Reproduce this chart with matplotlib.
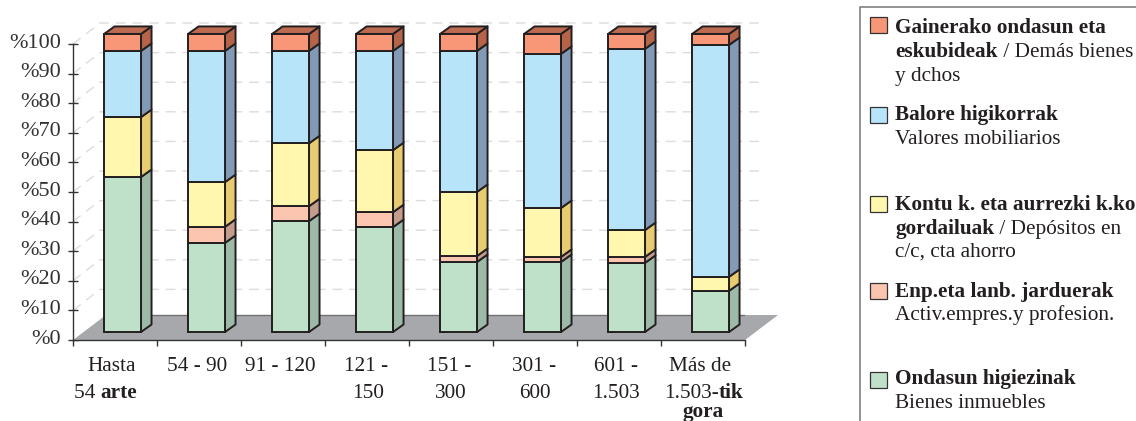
import matplotlib
matplotlib.use('Agg')
import numpy as np
import matplotlib.pyplot as plt
from matplotlib.patches import Polygon, Rectangle
from matplotlib.transforms import ScaledTranslation

plt.rcParams['font.family'] = ['Liberation Serif', 'DejaVu Serif']

# datos, de abajo hacia arriba
ondasun  = [52.0, 29.9, 37.2, 35.2, 23.5, 23.5, 23.2, 13.8]
jarduera = [0.0, 5.4, 5.0, 5.0, 2.0, 1.7, 2.0, 0.0]
kontu    = [20.1, 15.0, 21.1, 20.8, 21.5, 16.4, 9.0, 4.7]
balore   = [22.2, 44.0, 31.0, 33.3, 47.3, 51.7, 60.8, 77.8]
besteak  = [5.7, 5.7, 5.7, 5.7, 5.7, 6.7, 5.0, 3.7]
series = [ondasun, jarduera, kontu, balore, besteak]

front_colors = ['#bfe1ca', '#fcc5b0', '#fff7ae', '#b8e4f9', '#f79778']
side_colors  = ['#9dbaa8', '#c49c8c', '#e8cb70', '#829ab5', '#b5644a']
top_color = '#bd6b50'

yticks = [0, 10, 20, 30, 40, 50, 60, 70, 80, 90, 100]
ylabels = ['%' + str(v) for v in yticks]

# cada linea es una lista de trozos (texto, negrita)
cat_labels = [
    [[('Hasta', False)], [('54 ', False), ('arte', True)]],
    [[('54 - 90', False)]],
    [[('91 - 120', False)]],
    [[('121 -', False)], [('150', False)]],
    [[('151 -', False)], [('300', False)]],
    [[('301 -', False)], [('600', False)]],
    [[('601 -', False)], [('1.503', False)]],
    [[('Más de', False)], [('1.503-', False), ('tik', True)], [('gora', True)]],
]

W = 1136
H = 421
INK = '#231f20'

fig = plt.figure(figsize=(W / 100, H / 100), dpi=100)
ax = fig.add_axes([73 / W, 1 - 340 / H, 672 / W, 296 / H])
ax.set_xlim(0, 8)
ax.set_ylim(0, 100)
ax.patch.set_visible(False)
for s in ['top', 'right']:
    ax.spines[s].set_visible(False)
for s in ['left', 'bottom']:
    ax.spines[s].set_color('#333333')
    ax.spines[s].set_linewidth(1.0)
    ax.spines[s].set_zorder(6)

ax.set_yticks(yticks)
ax.set_yticklabels(ylabels, fontsize=16, color='#333333')
ax.tick_params(axis='y', direction='inout', length=7, width=1.0, color='#333333', pad=5)
up = ScaledTranslation(0, 2.5 / 72, fig.dpi_scale_trans)
for lab in ax.get_yticklabels():
    lab.set_transform(lab.get_transform() + up)
ax.set_xticks(range(9))
ax.set_xticklabels([])
ax.tick_params(axis='x', direction='out', length=4, width=1.0, color='#333333')

# profundidad del fondo, en unidades de datos
back_dx = 27 / 84
back_dy = 21 / 2.96
floor_dx = 33 / 84
floor_dy = 25 / 2.96

for v in yticks[1:]:
    ax.plot([0, back_dx, 8.24], [v, v + back_dy, v + back_dy], color='#dcdcdc',
            lw=1.0, dashes=(7, 5), clip_on=False, zorder=1)

ax.add_patch(Polygon([(0, 0), (8, 0), (8 + floor_dx, floor_dy), (floor_dx, floor_dy)],
                     facecolor='#a7a8ab', edgecolor='none', clip_on=False, zorder=2))
ax.plot([floor_dx, 8 + floor_dx], [floor_dy, floor_dy], color='#707070', lw=1.0, zorder=2)

# barras 3D
bar_w = 0.44
bar_off = 0.09
lift = 2.7
scale = 1.007
side_dx = 10.5 / 84
side_dy = 7.5 / 2.96
edge_lw = 1.4

for i in range(8):
    x0 = i + 0.5 + bar_off - bar_w / 2
    x1 = x0 + bar_w
    base = 0.0
    for k, vals in enumerate(series):
        if vals[i] == 0:
            continue
        y0 = lift + base * scale
        y1 = lift + (base + vals[i]) * scale
        base += vals[i]
        ax.add_patch(Polygon([(x1, y0), (x1 + side_dx, y0 + side_dy),
                              (x1 + side_dx, y1 + side_dy), (x1, y1)],
                             facecolor=side_colors[k], edgecolor=INK, lw=edge_lw,
                             joinstyle='round', clip_on=False, zorder=3))
        ax.add_patch(Rectangle((x0, y0), bar_w, y1 - y0, facecolor=front_colors[k],
                               edgecolor=INK, lw=edge_lw, clip_on=False, zorder=4))
    ax.add_patch(Polygon([(x0, y1), (x1, y1), (x1 + side_dx, y1 + side_dy),
                          (x0 + side_dx, y1 + side_dy)],
                         facecolor=top_color, edgecolor=INK, lw=edge_lw,
                         joinstyle='round', clip_on=False, zorder=3))

renderer = fig.canvas.get_renderer()


def put_line(px, py, parts, size, center=False):
    # pone trozos normal/negrita seguidos sobre la misma linea base
    items = []
    for txt, bold in parts:
        t = fig.text(0, 0, txt, fontsize=size, color=INK, va='baseline', ha='left',
                     fontweight='bold' if bold else 'normal')
        items.append(t)
    widths = [t.get_window_extent(renderer).width for t in items]
    x = px - sum(widths) / 2 if center else px
    for t, w in zip(items, widths):
        t.set_position((x / W, 1 - py / H))
        x += w


text_size = 15.3
cat_px = [[111.5, 105.5], [197.5], [280], [366, 368], [449, 450.5], [534, 535], [616, 616], [700, 704, 703]]
cat_base = [371, 398, 417]
for i, lines in enumerate(cat_labels):
    for j, parts in enumerate(lines):
        put_line(cat_px[i][j], cat_base[j], parts, text_size, center=True)

# leyenda
fig.add_artist(plt.Line2D([860 / W, 860 / W, 1], [0, 1 - 7 / H, 1 - 7 / H], color='#808080', lw=1.2))
swatch_y = [17, 107, 196, 283, 372]
legend_colors = front_colors[::-1]
for y, c in zip(swatch_y, legend_colors):
    fig.add_artist(Rectangle((870 / W, 1 - (y + 16) / H), 17 / W, 16 / H, facecolor=c,
                             edgecolor='#333333', lw=0.9, transform=fig.transFigure))

legend_lines = [
    (33, [('Gainerako ondasun eta', True)]),
    (57, [('eskubideak', True), (' / Demás bienes', False)]),
    (81, [('y dchos', False)]),
    (120, [('Balore higikorrak', True)]),
    (144, [('Valores mobiliarios', False)]),
    (210, [('Kontu k. eta aurrezki k.ko', True)]),
    (234, [('gordailuak', True), (' / Depósitos en', False)]),
    (257, [('c/c, cta ahorro', False)]),
    (297, [('Enp.eta lanb. jarduerak', True)]),
    (320, [('Activ.empres.y profesion.', False)]),
    (384, [('Ondasun higiezinak', True)]),
    (408, [('Bienes inmuebles', False)]),
]
for y, parts in legend_lines:
    put_line(895, y, parts, text_size)

fig.savefig('out.png', dpi=100)
